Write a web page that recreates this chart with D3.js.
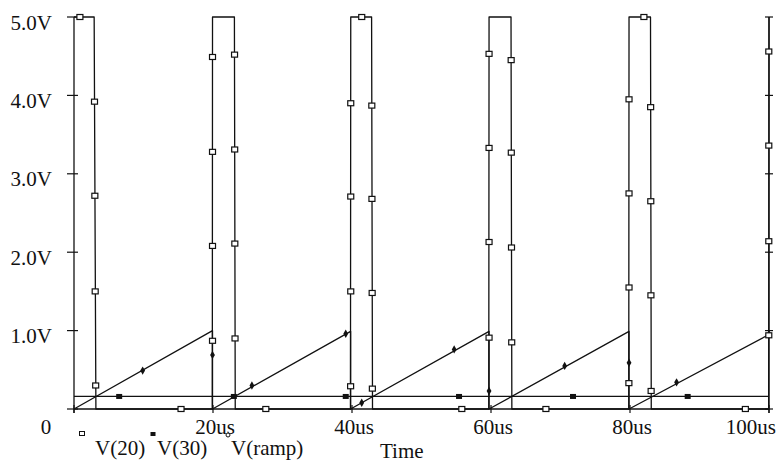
<!DOCTYPE html>
<html>
<head>
<meta charset="utf-8">
<script src="https://cdn.jsdelivr.net/npm/d3@7"></script>
<style>
  html, body { margin: 0; padding: 0; background: #fff; }
  svg { display: block; }
  text { font-family: "Liberation Serif", "DejaVu Serif", serif; fill: #111; }
</style>
</head>
<body>
<svg id="chart" width="776" height="465"></svg>
<script>
// ---- data (time in us, value in V) ----
const xTicks = [0, 20, 40, 60, 80, 100];
const xTickLabels = ["0", "20us", "40us", "60us", "80us", "100us"];
const yTicks = [1, 2, 3, 4, 5];
const yTickLabels = ["1.0V", "2.0V", "3.0V", "4.0V", "5.0V"];
const seriesNames = ["V(20)", "V(30)", "V(ramp)"];
const axisTitle = "Time";

const v20Wave = [[0,5],[2.9,5],[3.15,0],[19.9,0],[19.93,5],[23.08,5],[23.2,0],
  [39.78,0],[39.82,5],[42.82,5],[42.95,0],[59.68,0],[59.72,5],[62.88,5],[63.0,0],
  [79.82,0],[79.86,5],[82.95,5],[83.06,0],[99.95,0],[100,5]];
const v20Markers = [[0.85,5],[2.95,3.92],[3.0,2.72],[3.05,1.5],[3.12,0.3],
  [15.4,0],
  [19.93,4.49],[19.93,3.28],[19.93,2.08],[19.93,0.87],
  [23.1,4.52],[23.12,3.31],[23.14,2.11],[23.17,0.9],
  [27.6,0],
  [39.82,3.9],[39.82,2.71],[39.82,1.5],[39.8,0.29],
  [41.4,5],
  [42.85,3.87],[42.87,2.68],[42.9,1.48],[42.93,0.26],
  [55.8,0],
  [59.72,4.53],[59.72,3.33],[59.72,2.13],[59.72,0.91],
  [62.9,4.45],[62.92,3.27],[62.95,2.06],[62.98,0.85],
  [67.9,0],
  [79.86,3.95],[79.86,2.75],[79.86,1.55],[79.84,0.33],
  [82.0,5],
  [82.97,3.85],[82.99,2.65],[83.01,1.45],[83.04,0.23],
  [96.6,0],
  [99.97,4.56],[99.97,3.36],[99.97,2.14],[99.97,0.94]];

const v30Wave = [[0,0.16],[100,0.16]];
const v30Markers = [[6.5,0.16],[23.0,0.16],[39.1,0.16],[55.4,0.16],[71.8,0.16],[88.3,0.16]];

const rampWave = [[0,0],[19.93,1],[19.93,0],[39.8,0.99],[39.8,0],[59.72,0.99],[59.72,0],
  [79.86,0.99],[79.86,0],[100,0.95]];
const rampMarkers = [[9.88,0.49],[19.93,0.69],[25.6,0.30],[39.1,0.96],[41.4,0.08],[54.7,0.76],
  [59.72,0.23],[70.6,0.55],[79.86,0.59],[86.7,0.34],[100,0.95]];

// ---- layout ----
const svg = d3.select("#chart");
const x = d3.scaleLinear().domain([0, 100]).range([74, 769]);
const y = d3.scaleLinear().domain([0, 5]).range([409, 17]);
const ink = "#111";

const g = svg.append("g");

// axes lines
g.append("line").attr("x1", x(0)).attr("x2", x(0)).attr("y1", y(5)).attr("y2", y(0) + 4)
  .attr("stroke", ink).attr("stroke-width", 1.3);
g.append("line").attr("x1", x(100)).attr("x2", x(100)).attr("y1", y(5)).attr("y2", y(0) + 4)
  .attr("stroke", ink).attr("stroke-width", 1.3);
g.append("line").attr("x1", x(0)).attr("x2", x(100)).attr("y1", y(0)).attr("y2", y(0))
  .attr("stroke", ink).attr("stroke-width", 1.3);

// y ticks (left and right), crossing axis
[0].concat(yTicks).forEach(v => {
  g.append("line").attr("x1", x(0) - 7).attr("x2", x(0) + 4).attr("y1", y(v)).attr("y2", y(v))
    .attr("stroke", ink).attr("stroke-width", 1.2);
  g.append("line").attr("x1", x(100) - 4).attr("x2", x(100) + 4).attr("y1", y(v)).attr("y2", y(v))
    .attr("stroke", ink).attr("stroke-width", 1.2);
});
// x ticks
xTicks.forEach(t => {
  g.append("line").attr("x1", x(t)).attr("x2", x(t)).attr("y1", y(0) - 4).attr("y2", y(0) + 4)
    .attr("stroke", ink).attr("stroke-width", 1.2);
});

// y labels
yTicks.forEach((v, i) => {
  g.append("text").attr("x", 52).attr("y", y(v) + 12.5)
    .attr("text-anchor", "end").attr("font-size", 21).text(yTickLabels[i]);
});
// x labels
xTicks.forEach((t, i) => {
  let xx = x(t) + 2, anchor = "middle";
  if (i === 0) { xx = x(t) - 28; }
  if (i === xTicks.length - 1) { xx = 776; anchor = "end"; }
  g.append("text").attr("x", xx).attr("y", 434)
    .attr("text-anchor", anchor).attr("font-size", 21).text(xTickLabels[i]);
});

// traces
const line = d3.line().x(d => x(d[0])).y(d => y(d[1]));
[v30Wave, rampWave, v20Wave].forEach(w => {
  g.append("path").attr("d", line(w)).attr("fill", "none")
    .attr("stroke", ink).attr("stroke-width", 1.3).attr("stroke-linejoin", "round");
});

// markers
g.selectAll(".m30").data(v30Markers).enter().append("rect")
  .attr("x", d => x(d[0]) - 3).attr("y", d => y(d[1]) - 2.5).attr("width", 6).attr("height", 5)
  .attr("fill", ink);
g.selectAll(".mr").data(rampMarkers).enter().append("path")
  .attr("d", d3.symbol().type(d3.symbolDiamond).size(20))
  .attr("transform", d => `translate(${x(d[0])},${y(d[1])})`)
  .attr("fill", ink);
g.selectAll(".m20").data(v20Markers).enter().append("rect")
  .attr("x", d => x(d[0]) - 3).attr("y", d => y(d[1]) - 2.5).attr("width", 6).attr("height", 5)
  .attr("fill", "#fff").attr("stroke", ink).attr("stroke-width", 1.2);

// legend
const legendX = [95, 157, 231];
const legendMarkX = [82, 153, 228];
seriesNames.forEach((n, i) => {
  g.append("text").attr("x", legendX[i]).attr("y", 455).attr("font-size", 21).text(n);
});
g.append("rect").attr("x", legendMarkX[0] - 2.5).attr("y", 431.5).attr("width", 5).attr("height", 4)
  .attr("fill", "#fff").attr("stroke", ink).attr("stroke-width", 1);
g.append("rect").attr("x", legendMarkX[1] - 2.5).attr("y", 432).attr("width", 5).attr("height", 4)
  .attr("fill", ink);
g.append("circle").attr("cx", legendMarkX[2]).attr("cy", 435).attr("r", 2)
  .attr("fill", "#fff").attr("stroke", ink).attr("stroke-width", 1);

g.append("text").attr("x", 380).attr("y", 458).attr("font-size", 21).text(axisTitle);
</script>
</body>
</html>
